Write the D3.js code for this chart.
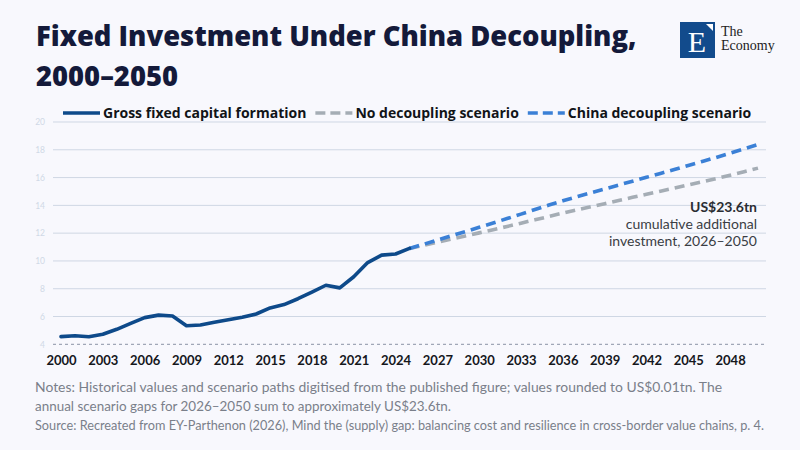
<!DOCTYPE html>
<html><head><meta charset="utf-8">
<script src="https://cdn.jsdelivr.net/npm/d3@7"></script>
<style>
html,body{margin:0;padding:0;background:#f8f8fd;}
svg{display:block;font-family:Lato,"Noto Sans",sans-serif;}
</style></head>
<body><svg id="c" width="800" height="450"></svg>
<script>
const histYears = [2000,2001,2002,2003,2004,2005,2006,2007,2008,2009,2010,2011,2012,2013,2014,2015,2016,2017,2018,2019,2020,2021,2022,2023,2024,2025];
const histValues = [4.55,4.62,4.54,4.72,5.08,5.51,5.92,6.10,6.04,5.34,5.39,5.58,5.77,5.94,6.18,6.62,6.86,7.28,7.76,8.25,8.06,8.86,9.88,10.42,10.50,10.90];
const scenYears = [2025,2026,2027,2028,2029,2030,2031,2032,2033,2034,2035,2036,2037,2038,2039,2040,2041,2042,2043,2044,2045,2046,2047,2048,2049,2050];
const noDecoupling = [10.90,11.12,11.35,11.57,11.79,12.02,12.25,12.48,12.72,12.96,13.20,13.45,13.68,13.90,14.12,14.35,14.58,14.80,15.02,15.24,15.47,15.70,15.93,16.17,16.42,16.68];
const chinaDecoupling = [10.90,11.20,11.50,11.81,12.11,12.42,12.73,13.05,13.37,13.70,14.02,14.33,14.62,14.90,15.18,15.46,15.74,16.02,16.30,16.58,16.87,17.16,17.45,17.76,18.06,18.38];
const yTicks = [4,6,8,10,12,14,16,18,20];
const xTicks = [2000,2003,2006,2009,2012,2015,2018,2021,2024,2027,2030,2033,2036,2039,2042,2045,2048];
const legendLabels = ["Gross fixed capital formation","No decoupling scenario","China decoupling scenario"];
const titleLines = ["Fixed Investment Under China Decoupling,","2000–2050"];
const annotation = ["US$23.6tn","cumulative additional","investment, 2026–2050"];
const notes = ["Notes: Historical values and scenario paths digitised from the published figure; values rounded to US$0.01tn. The","annual scenario gaps for 2026–2050 sum to approximately US$23.6tn."];
const source = "Source: Recreated from EY-Parthenon (2026), Mind the (supply) gap: balancing cost and resilience in cross-border value chains, p. 4.";

const svg = d3.select("#c");
svg.append("rect").attr("width",800).attr("height",450).attr("fill","#f8f8fd");

const x = d3.scaleLinear().domain([2000,2050]).range([61,758]);
const y = d3.scaleLinear().domain([4,20]).range([344.3,122]);
const gridX0 = 53, gridX1 = 766;

// title
const title = svg.append("g");
titleLines.forEach((t,i)=>{
  title.append("text").attr("x",36).attr("y",46+i*39.5)
    .attr("font-family","'Open Sans',sans-serif")
    .attr("font-size",26).attr("font-weight",800).attr("fill","#141a3a").text(t);
});
{
  const n = title.select("text").node();
  const w = n.getComputedTextLength();
  const fs = Math.max(24, Math.min(28, 26*601/w));
  title.selectAll("text").attr("font-size",fs);
}

// logo
const logo = svg.append("g");
logo.append("rect").attr("x",680).attr("y",22).attr("width",35).attr("height",36).attr("fill","#124b8c");
logo.append("path").attr("d","M706,24 L713,24 L713,31 Z").attr("fill","#ffffff");
logo.append("text").attr("x",697).attr("y",52).attr("text-anchor","middle")
  .attr("font-family","Liberation Serif,serif").attr("font-size",30).attr("fill","#ffffff").text("E");
logo.append("text").attr("x",721).attr("y",36).attr("font-family","Liberation Serif,serif")
  .attr("font-size",14).attr("fill","#222").text("The");
logo.append("text").attr("x",721).attr("y",50).attr("font-family","Liberation Serif,serif")
  .attr("font-size",14).attr("fill","#222").text("Economy");

// gridlines
const grid = svg.append("g");
yTicks.forEach(v=>{
  grid.append("line").attr("x1",gridX0).attr("x2",gridX1).attr("y1",y(v)).attr("y2",y(v))
    .attr("stroke", v===4 ? "#8a93a6" : "#cfd7e4").attr("stroke-width",1)
    .attr("stroke-dasharray", v===4 ? "3,3" : null);
});
const yAxis = d3.axisLeft(y).tickValues(yTicks).tickSize(0).tickPadding(0);
const ya = svg.append("g").attr("transform",`translate(45,0)`).call(yAxis);
ya.select(".domain").remove();
ya.selectAll("text").attr("font-size",8.5).attr("fill","#d0d9e6").attr("font-family","Lato,sans-serif");

const xAxis = d3.axisBottom(x).tickValues(xTicks).tickFormat(d3.format("d")).tickSize(0).tickPadding(0);
const xa = svg.append("g").attr("transform",`translate(0,356)`).call(xAxis);
xa.select(".domain").remove();
xa.selectAll("text").attr("font-size",13).attr("font-weight",700).attr("fill","#15171c")
  .attr("font-family","Lato,sans-serif");

// lines
const line = d3.line().x(d=>x(d[0])).y(d=>y(d[1]));
svg.append("path").datum(scenYears.map((yr,i)=>[yr,noDecoupling[i]]))
  .attr("d",line).attr("fill","none").attr("stroke","#a5adb5").attr("stroke-width",3.6)
  .attr("stroke-dasharray","10,6");
svg.append("path").datum(scenYears.map((yr,i)=>[yr,chinaDecoupling[i]]))
  .attr("d",line).attr("fill","none").attr("stroke","#3b80d6").attr("stroke-width",3.6)
  .attr("stroke-dasharray","10,6");
svg.append("path").datum(histYears.map((yr,i)=>[yr,histValues[i]]))
  .attr("d",line).attr("fill","none").attr("stroke","#0e4a8a").attr("stroke-width",3.6)
  .attr("stroke-linejoin","round").attr("stroke-linecap","round");

// legend
const legendStyles = [
  {c:"#0e4a8a",dash:null},{c:"#a5adb5",dash:"10,5"},{c:"#3b80d6",dash:"10,5"}
];
const lg = svg.append("g");
let lx = 63;
legendLabels.forEach((lab,i)=>{
  lg.append("line").attr("x1",lx).attr("x2",lx+37).attr("y1",113).attr("y2",113)
    .attr("stroke",legendStyles[i].c).attr("stroke-width",3.6).attr("stroke-dasharray",legendStyles[i].dash);
  const t = lg.append("text").attr("x",lx+40).attr("y",118).attr("font-size",14)
    .attr("font-family","'Open Sans',sans-serif").attr("font-weight",700)
    .attr("fill","#111418").text(lab);
  lx += 40 + t.node().getComputedTextLength() + 9;
});

// annotation
const an = svg.append("g");
annotation.forEach((t,i)=>{
  an.append("text").attr("x",757).attr("y",212+i*17.2).attr("text-anchor","end")
    .attr("font-size",14).attr("font-weight",i===0?700:400)
    .attr("fill",i===0?"#2a2d33":"#3a3d44").text(t);
});

// notes
const noteWidths = [687, 416];
notes.forEach((t,i)=>{
  svg.append("text").attr("x",35).attr("y",392+i*18.5).attr("font-size",14)
    .attr("textLength",noteWidths[i]).attr("lengthAdjust","spacingAndGlyphs")
    .attr("fill","#7a7f8a").text(t);
});
svg.append("text").attr("x",35).attr("y",430).attr("font-size",12.7)
  .attr("textLength",729).attr("lengthAdjust","spacingAndGlyphs")
  .attr("fill","#7a7f8a").text(source);
</script></body></html>
